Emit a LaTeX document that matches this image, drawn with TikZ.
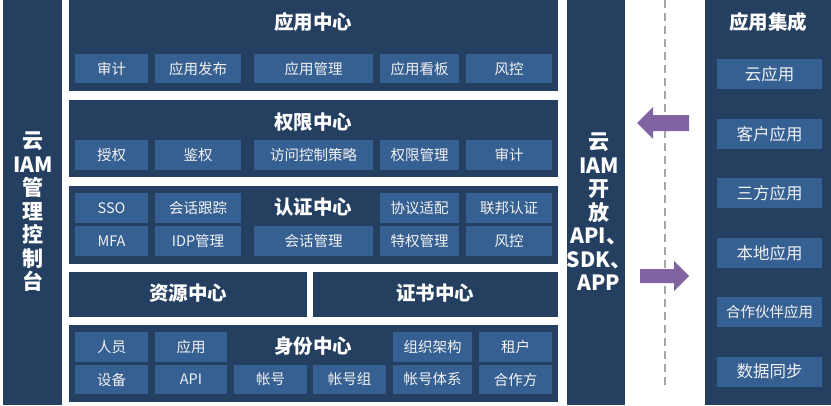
\documentclass[tikz,border=0pt]{standalone}
\usepackage{fontspec}
\setmainfont{Noto Sans CJK SC}
\definecolor{navy}{HTML}{243F60}
\definecolor{cellblue}{HTML}{366092}
\definecolor{arrowpurple}{HTML}{8064A2}
\definecolor{dashgray}{HTML}{A6A6A6}

\begin{document}
\begin{tikzpicture}[x=1pt, y=-1pt,
    panel/.style={fill=navy, inner sep=0pt, text=white},
    cell/.style={fill=cellblue, inner sep=0pt, minimum height=30pt, text=white!95!black, font=\fontsize{14.5}{16}\selectfont},
    title/.style={text=white, font=\bfseries\fontsize{19.5}{21}\selectfont},
    sidetext/.style={text=white, align=center, font=\bfseries\fontsize{21}{23.5}\selectfont}]
    \useasboundingbox (0,0) rectangle (831,405);
    % side bars
    \node[panel, minimum width=59pt, minimum height=405pt] (console) at (32.5,202.5) {};
    \node[sidetext] (consoletext) at (33,212) {云\\IAM\\管\\理\\控\\制\\台};
    \node[panel, minimum width=58pt, minimum height=405pt] (open) at (596,202.5) {};
    \node[sidetext] (opentext) at (599,212) {云\\IAM\\开\\放\\API、\\SDK、\\APP};
    \node[panel, minimum width=126pt, minimum height=405pt] (integ) at (768,202.5) {};
    % centre panels
    \node[panel, minimum width=489pt, minimum height=91pt] (app) at (313.3,45.5) {};
    \node[panel, minimum width=489pt, minimum height=77pt] (perm) at (313.3,138.5) {};
    \node[panel, minimum width=489pt, minimum height=78pt] (auth) at (313.3,225) {};
    \node[panel, minimum width=238pt, minimum height=45pt] (res) at (188,294.5) {};
    \node[panel, minimum width=244.7pt, minimum height=45pt] (cert) at (435.3,294.5) {};
    \node[panel, minimum width=489pt, minimum height=77pt] (ident) at (313.3,363.5) {};
    % titles
    \node[title] (apptitle) at (313,22) {应用中心};
    \node[title] (permtitle) at (313,122) {权限中心};
    \node[title] (authtitle) at (313,207) {认证中心};
    \node[title] (restitle) at (188,293.5) {资源中心};
    \node[title] (certtitle) at (435,293.5) {证书中心};
    \node[title] (identtitle) at (313,346) {身份中心};
    \node[title] (integtitle) at (768,22) {应用集成};
    % application centre
    \node[cell, minimum width=73pt, minimum height=29pt] (a1) at (111.5,68.5) {审计};
    \node[cell, minimum width=86pt, minimum height=29pt] (a2) at (198,68.5) {应用发布};
    \node[cell, minimum width=119pt, minimum height=29pt] (a3) at (313.5,68.5) {应用管理};
    \node[cell, minimum width=79pt, minimum height=29pt] (a4) at (419.5,68.5) {应用看板};
    \node[cell, minimum width=86pt, minimum height=29pt] (a5) at (509,68.5) {风控};
    % permission centre
    \node[cell, minimum width=73pt] (p1) at (111.5,155) {授权};
    \node[cell, minimum width=86pt] (p2) at (198,155) {鉴权};
    \node[cell, minimum width=119pt] (p3) at (313.5,155) {访问控制策略};
    \node[cell, minimum width=79pt] (p4) at (419.5,155) {权限管理};
    \node[cell, minimum width=86pt] (p5) at (509,155) {审计};
    % authentication centre
    \node[cell, minimum width=73pt] (u1) at (111.5,208) {SSO};
    \node[cell, minimum width=86pt] (u2) at (198,208) {会话跟踪};
    \node[cell, minimum width=79pt] (u4) at (419.5,208) {协议适配};
    \node[cell, minimum width=86pt] (u5) at (509,208) {联邦认证};
    \node[cell, minimum width=73pt] (u6) at (111.5,241) {MFA};
    \node[cell, minimum width=86pt] (u7) at (198,241) {IDP管理};
    \node[cell, minimum width=119pt] (u8) at (313.5,241) {会话管理};
    \node[cell, minimum width=79pt] (u9) at (419.5,241) {特权管理};
    \node[cell, minimum width=86pt] (u10) at (509,241) {风控};
    % identity centre
    \node[cell, minimum width=73pt] (i1) at (111.5,347) {人员};
    \node[cell, minimum width=72pt] (i2) at (191,347) {应用};
    \node[cell, minimum width=79pt] (i5) at (432.5,347) {组织架构};
    \node[cell, minimum width=73pt] (i6) at (515.5,347) {租户};
    \node[cell, minimum width=73pt, minimum height=29pt] (i7) at (111.5,379.5) {设备};
    \node[cell, minimum width=72pt, minimum height=29pt] (i8) at (191,379.5) {API};
    \node[cell, minimum width=73pt, minimum height=29pt] (i9) at (270.5,379.5) {帐号};
    \node[cell, minimum width=73pt, minimum height=29pt] (i10) at (349.5,379.5) {帐号组};
    \node[cell, minimum width=79pt, minimum height=29pt] (i11) at (432.5,379.5) {帐号体系};
    \node[cell, minimum width=73pt, minimum height=29pt] (i12) at (515.5,379.5) {合作方};
    % application integration
    \foreach \name/\y/\txt in {r1/74/云应用, r2/134/客户应用, r3/193/三方应用, r4/253/本地应用, r6/371.5/数据同步}
        \node[cell, minimum width=105pt, font=\fontsize{16.5}{18}\selectfont] (\name) at (769.5,\y) {\txt};
    \node[cell, minimum width=105pt] (r5) at (769.5,312) {合作伙伴应用};
    % boundary and flow arrows
    \coordinate (dtop) at (665,0);
    \coordinate (dbot) at (665,390);
    \draw[dashgray, line width=1.5pt, dash pattern=on 8pt off 5pt] (dtop) -- (dbot);
    \fill[arrowpurple] (637,123) -- (653,107) -- (653,115) -- (689,115) -- (689,131) -- (653,131) -- (653,139) -- cycle;
    \fill[arrowpurple] (689,276) -- (674,261) -- (674,269) -- (640,269) -- (640,283) -- (674,283) -- (674,291) -- cycle;
\end{tikzpicture}
\end{document}
